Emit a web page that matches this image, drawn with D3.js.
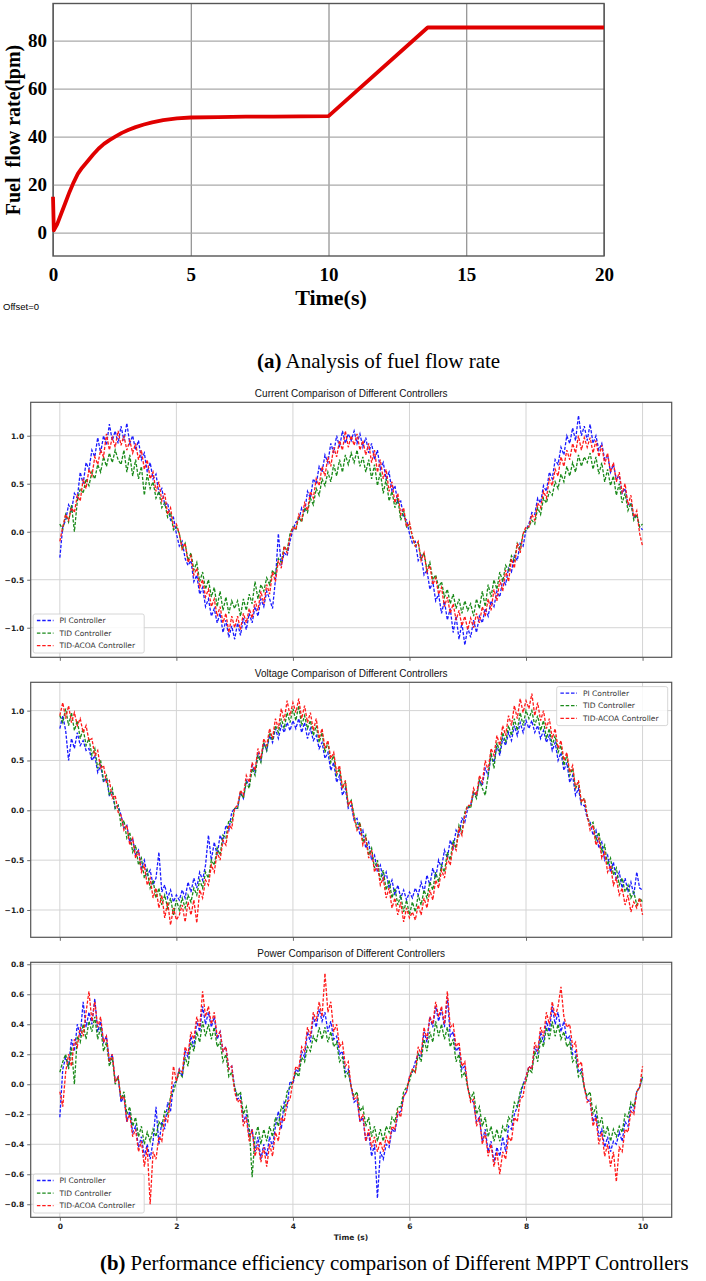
<!DOCTYPE html>
<html>
<head>
<meta charset="utf-8">
<script src="https://cdn.jsdelivr.net/npm/d3@7"></script>
<style>
body { margin: 0; background: #fff; }
svg { display: block; }
</style>
</head>
<body>
<svg id="chart" width="706" height="1281"></svg>
<script>

// DATA
// (a) fuel flow rate
const fuelTime = [0, 0.03, 0.15, 0.3, 0.45, 0.6, 0.75, 0.9, 1.05, 1.27, 1.45, 1.65, 1.85, 2.05, 2.26, 2.5, 2.75, 3.0, 3.3, 3.6, 4.0, 4.5, 5, 6, 7, 8, 9, 10, 13.6, 20];
const fuelRate = [15, 1, 3.5, 8, 12.5, 17, 21, 24.5, 27, 30, 32.5, 35, 37, 38.6, 40, 41.6, 42.9, 44, 45.1, 46, 46.9, 47.6, 48, 48.2, 48.4, 48.4, 48.5, 48.6, 85.5, 85.5];
const fuelXTicks = [0, 5, 10, 15, 20];
const fuelYTicks = [0, 20, 40, 60, 80];

// (b) controller comparison, one sample every 0.05 s from 0 to 10 s
const sampleTime = d3.range(201).map(i => i / 20);
const timeTicks = [0, 2, 4, 6, 8, 10];
const controllers = ["PI Controller", "TID Controller", "TID-ACOA Controller"];

const currentPI = [-.27,
	.05,.12,.28,.22,.40,.35,.62,.50,.72,.65,.85,.78,.98,.82,1.0,.90,1.12,.95,1.05,.92,
	1.10,.95,1.13,.92,1.0,.85,.95,.75,.82,.62,.72,.55,.60,.40,.45,.28,.30,.12,.15,-.02,
	-.15,-.10,-.28,-.35,-.30,-.52,-.45,-.65,-.58,-.78,-.70,-.88,-.80,-.95,-.85,-1.05,-.92,-1.10,-.98,-1.12,
	-.95,-1.08,-.90,-1.02,-.85,-.95,-.78,-.88,-.70,-.78,-.62,-.70,-.80,-.50,-.02,-.35,-.22,-.25,-.10,.02,
	.10,.12,.25,.20,.42,.35,.55,.50,.68,.62,.80,.72,.92,.82,1.0,.88,1.05,.92,1.02,.95,
	1.05,.92,1.02,.88,.98,.82,.92,.75,.85,.65,.72,.55,.62,.42,.48,.30,.32,.15,.12,-.02,
	-.12,-.10,-.30,-.25,-.45,-.40,-.60,-.52,-.72,-.65,-.85,-.72,-.92,-.80,-1.05,-.88,-1.12,-.95,-1.18,-1.0,
	-1.10,-.92,-1.05,-.88,-.95,-.80,-.88,-.72,-.78,-.62,-.68,-.50,-.55,-.38,-.42,-.25,-.30,-.12,-.15,.02,
	.08,.20,.18,.35,.30,.48,.42,.62,.55,.75,.70,.88,.80,1.0,.92,1.08,.95,1.21,1.0,1.10,
	.95,1.12,.92,1.0,.85,.92,.75,.80,.62,.70,.55,.58,.40,.45,.28,.30,.15,.18,.05,.02];
const currentTID = [.08,
	.02,.18,.10,.28,.00,.32,.45,.40,.55,.48,.62,.55,.70,.62,.78,.68,.82,.72,.85,.75,
	.70,.85,.62,.80,.58,.75,.55,.68,.38,.60,.45,.52,.35,.42,.25,.30,.15,.20,.02,.05,
	-.02,-.18,-.12,-.30,-.22,-.40,-.32,-.52,-.42,-.60,-.50,-.68,-.58,-.78,-.62,-.82,-.68,-.85,-.72,-.80,
	-.72,-.88,-.70,-.82,-.65,-.75,-.52,-.70,-.55,-.62,-.48,-.55,-.40,-.45,-.28,-.32,-.15,-.20,-.02,.05,
	.02,.15,.10,.25,.20,.35,.28,.45,.38,.55,.48,.62,.52,.70,.58,.75,.62,.80,.70,.82,
	.72,.85,.68,.78,.62,.75,.55,.70,.48,.62,.40,.55,.32,.42,.25,.35,.12,.22,.05,.08,
	-.05,-.15,-.12,-.28,-.22,-.40,-.32,-.50,-.45,-.58,-.52,-.68,-.60,-.75,-.65,-.80,-.70,-.85,-.72,-.82,
	-.75,-.88,-.70,-.80,-.62,-.78,-.55,-.68,-.50,-.60,-.42,-.52,-.35,-.40,-.25,-.30,-.12,-.18,-.02,.02,
	.05,.12,.08,.25,.18,.35,.30,.42,.38,.52,.45,.60,.52,.68,.58,.72,.62,.80,.68,.78,
	.72,.82,.65,.78,.60,.72,.52,.65,.48,.58,.38,.50,.30,.40,.22,.30,.12,.18,.05,.08];
const currentACOA = [-.10,
	.05,.18,.12,.25,.20,.38,.32,.55,.45,.65,.58,.78,.70,.85,.78,1.02,.85,.98,.88,1.05,
	.90,1.00,.85,.95,.82,.92,.75,.85,.65,.75,.55,.62,.42,.52,.32,.40,.18,.25,.05,.08,
	-.02,-.18,-.12,-.32,-.25,-.45,-.38,-.58,-.50,-.68,-.60,-.78,-.70,-.88,-.78,-.95,-.85,-1.05,-.88,-1.0,
	-.88,-1.02,-.85,-.95,-.80,-.90,-.72,-.82,-.62,-.75,-.55,-.65,-.42,-.52,-.30,-.38,-.15,-.22,-.05,.05,
	.02,.18,.12,.30,.22,.42,.35,.55,.48,.68,.58,.78,.68,.88,.78,.95,.85,1.05,.88,1.0,
	.90,1.02,.85,.95,.80,.92,.72,.85,.62,.75,.55,.65,.42,.52,.30,.40,.18,.25,.05,.10,
	-.05,-.15,-.10,-.30,-.22,-.42,-.35,-.55,-.48,-.65,-.58,-.78,-.68,-.85,-.75,-.92,-.82,-.98,-.88,-1.02,
	-.90,-1.0,-.85,-.95,-.78,-.88,-.70,-.82,-.60,-.72,-.50,-.62,-.40,-.52,-.28,-.38,-.12,-.22,-.02,.05,
	.05,.18,.12,.30,.25,.42,.35,.55,.48,.65,.58,.78,.68,.85,.75,.92,.82,1.0,.85,.98,
	.88,.98,.82,.95,.78,.90,.70,.82,.62,.72,.52,.62,.40,.50,.28,.38,.15,.22,-.02,-.15];

const voltagePI = [.82,
	.95,.80,.50,.72,.62,.78,.65,.70,.60,.62,.50,.55,.38,.45,.28,.32,.15,.18,.02,.05,
	-.05,-.18,-.15,-.32,-.28,-.45,-.40,-.58,-.50,-.65,-.60,-.75,-.68,-.42,-.82,-.75,-.88,-.80,-.92,-.85,
	-.90,-.80,-.88,-.72,-.82,-.68,-.78,-.62,-.70,-.55,-.25,-.50,-.32,-.45,-.25,-.32,-.15,-.20,-.02,.02,
	.02,.18,.12,.30,.25,.45,.38,.58,.50,.68,.60,.75,.68,.82,.72,.85,.78,.88,.80,.90,
	.82,.92,.78,.88,.72,.82,.70,.75,.62,.68,.52,.58,.40,.48,.28,.35,.15,.22,.02,.05,
	-.10,-.08,-.25,-.20,-.38,-.32,-.50,-.45,-.62,-.55,-.70,-.62,-.78,-.70,-.85,-.75,-.88,-.80,-.90,-.82,
	-.88,-.78,-.85,-.72,-.82,-.65,-.75,-.58,-.68,-.50,-.58,-.40,-.48,-.30,-.38,-.20,-.25,-.08,-.12,.02,
	.05,.18,.15,.30,.25,.42,.35,.55,.48,.65,.55,.72,.65,.78,.70,.85,.75,.88,.78,.90,
	.82,.90,.78,.85,.72,.80,.68,.75,.60,.68,.50,.58,.40,.48,.28,.35,.15,.22,.05,.05,
	-.08,-.12,-.25,-.20,-.38,-.32,-.50,-.45,-.62,-.52,-.70,-.62,-.78,-.68,-.82,-.72,-.85,-.62,-.78,-.80];
const voltageTID = [.95,
	.88,1.02,.85,.98,.80,.90,.72,.82,.65,.72,.55,.62,.42,.50,.30,.35,.15,.22,.02,.05,
	-.15,-.10,-.28,-.22,-.42,-.35,-.55,-.48,-.68,-.60,-.78,-.70,-.88,-.78,-.95,-.85,-.98,-.88,-1.05,-.90,
	-1.0,-.88,-.98,-.85,-.92,-.78,-.85,-.70,-.78,-.62,-.68,-.50,-.55,-.38,-.45,-.25,-.28,-.10,-.12,.02,
	.02,.18,.12,.28,.22,.42,.35,.55,.48,.68,.60,.78,.70,.85,.78,.92,.82,.98,.88,1.02,
	.90,1.05,.85,.95,.82,.90,.75,.85,.68,.78,.58,.68,.48,.55,.35,.42,.22,.28,.05,.10,
	-.05,-.18,-.12,-.32,-.25,-.45,-.38,-.58,-.50,-.70,-.60,-.80,-.70,-.88,-.78,-.95,-.85,-1.02,-.90,-1.05,
	-.92,-1.02,-.85,-.95,-.80,-.88,-.72,-.80,-.62,-.72,-.55,-.62,-.42,-.50,-.30,-.38,-.15,-.22,-.02,.05,
	.02,.18,.12,.30,.22,.15,.35,.58,.42,.68,.58,.78,.68,.85,.75,.92,.80,.98,.85,1.0,
	.92,1.0,.85,.95,.80,.90,.72,.82,.65,.75,.58,.65,.45,.55,.35,.42,.22,.28,.08,.12,
	-.05,-.15,-.12,-.30,-.22,-.42,-.35,-.55,-.48,-.65,-.58,-.75,-.68,-.82,-.75,-.88,-.82,-.95,-.88,-.92];
const voltageACOA = [.95,
	1.08,.92,1.05,.88,.98,.85,.92,.78,.85,.70,.72,.55,.60,.42,.45,.28,.30,.12,.15,-.02,
	-.05,-.20,-.15,-.35,-.28,-.48,-.40,-.62,-.55,-.75,-.68,-.88,-.78,-.98,-.85,-1.08,-.92,-1.15,-.98,-1.10,
	-1.05,-.95,-1.12,-.92,-1.05,-.90,-1.13,-.80,-.88,-.70,-.75,-.55,-.62,-.42,-.50,-.30,-.35,-.15,-.18,.02,
	.05,.20,.15,.35,.28,.48,.40,.62,.52,.72,.65,.82,.72,.92,.82,1.02,.90,1.10,.95,1.08,
	.98,1.12,.92,1.05,.88,.98,.80,.92,.72,.82,.62,.70,.52,.58,.38,.45,.22,.30,.05,.10,
	-.08,-.20,-.15,-.35,-.28,-.48,-.40,-.62,-.55,-.75,-.68,-.88,-.78,-.98,-.88,-1.05,-.92,-1.12,-.98,-1.08,
	-1.02,-1.10,-.95,-1.05,-.88,-.98,-.80,-.90,-.70,-.78,-.60,-.68,-.48,-.55,-.35,-.40,-.18,-.25,-.05,.05,
	.05,.22,.15,.35,.28,.50,.40,.62,.55,.75,.65,.85,.75,.95,.85,1.05,.92,1.12,.98,1.10,
	1.02,1.17,.95,1.08,.90,1.0,.82,.92,.72,.82,.62,.70,.50,.58,.38,.45,.22,.30,.08,.12,
	-.05,-.20,-.15,-.35,-.28,-.48,-.42,-.62,-.55,-.75,-.68,-.85,-.78,-.95,-.85,-1.02,-.92,-.98,-.88,-1.05];

const powerPI = [-.22,
	.10,.18,.12,.30,.22,.40,.32,.55,.38,.48, .40,.57,.35,.42,.28,.32,.15,.20,.02,.05,
	-.12,-.08,-.25,-.18,-.32,-.28,-.42,-.35,-.48,-.40, -.50,-.38,-.15,-.40,-.25,-.30,-.12,-.18,.00,.02,
	.10,.05,.22,.18,.32,.25,.42,.35,.52,.40, .48,.38,.45,.30,.35,.22,.25,.10,.12,-.02,
	-.10,-.08,-.25,-.20,-.35,-.30,-.45,-.35,-.50,-.40, -.48,-.35,-.42,-.28,-.18,-.30,-.12,-.15,.02,.00,
	.10,.08,.22,.18,.35,.28,.45,.38,.50,.42, .48,.35,.42,.30,.32,.20,.22,.08,.10,-.02,
	-.12,-.10,-.25,-.22,-.38,-.32,-.48,-.40,-.76,-.45, -.50,-.40,-.42,-.30,-.32,-.20,-.18,-.08,-.05,.05,
	.08,.15,.20,.18,.35,.28,.45,.38,.52,.42, .50,.38,.58,.32,.35,.22,.25,.10,.12,-.02,
	-.10,-.12,-.25,-.22,-.38,-.30,-.45,-.38,-.52,-.42, -.48,-.35,-.45,-.28,-.30,-.20,-.15,-.08,.00,.05,
	.12,.10,.25,.20,.35,.28,.42,.35,.52,.40, .48,.35,.42,.30,.32,.20,.22,.08,.10,-.02,
	-.10,-.12,-.25,-.20,-.35,-.30,-.42,-.35,-.45,-.38, -.40,-.32,-.38,-.25,-.28,-.15,-.18,-.05,-.02,.05];
const powerTID = [.08,
	.15,.20,.10,.25,.00,.32,.28,.40,.30,.42, .35,.45,.30,.38,.22,.28,.12,.18,.00,.05,
	-.10,-.05,-.20,-.15,-.28,-.22,-.35,-.28,-.40,-.32, -.38,-.30,-.35,-.25,-.28,-.18,-.20,-.08,-.05,.02,
	.08,.05,.18,.12,.28,.22,.35,.28,.42,.32, .40,.30,.38,.25,.28,.15,.20,.05,.08,-.02,
	-.08,-.05,-.20,-.15,-.28,-.62,-.35,-.28,-.40,-.30, -.38,-.28,-.35,-.22,-.28,-.15,-.18,-.05,-.02,.02,
	.08,.05,.18,.15,.25,.22,.32,.28,.38,.30, .38,.28,.35,.25,.28,.15,.18,.05,.08,-.02,
	-.08,-.05,-.18,-.15,-.28,-.22,-.35,-.28,-.38,-.30, -.38,-.28,-.32,-.22,-.25,-.15,-.15,-.05,-.02,.02,
	.10,.08,.20,.15,.30,.22,.35,.28,.42,.32, .40,.30,.38,.25,.30,.15,.20,.05,.08,-.02,
	-.10,-.05,-.20,-.15,-.28,-.22,-.35,-.28,-.38,-.30, -.38,-.28,-.32,-.22,-.25,-.12,-.15,-.05,.00,.02,
	.10,.08,.22,.15,.30,.25,.38,.30,.42,.32, .40,.30,.35,.25,.28,.15,.18,.05,.08,-.02,
	-.08,-.05,-.20,-.15,-.28,-.22,-.35,-.28,-.38,-.30, -.35,-.28,-.32,-.20,-.22,-.12,-.15,-.05,-.02,.05];
const powerACOA = [-.05,
	-.15,.08,.20,.12,.30,.25,.38,.32,.48,.62, .42,.55,.38,.45,.28,.32,.15,.20,.02,.05,
	-.10,-.08,-.25,-.20,-.35,-.30,-.45,-.38,-.55,-.42, -.80,-.45,-.50,-.35,-.38,-.22,-.25,-.10,.12,.02,
	.10,.08,.25,.20,.35,.30,.45,.38,.62,.45, .52,.40,.48,.32,.35,.22,.25,.10,.12,-.05,
	-.12,-.10,-.28,-.22,-.38,-.30,-.48,-.40,-.52,-.42, -.55,-.40,-.48,-.32,-.38,-.22,-.25,-.12,-.10,.02,
	.12,.10,.25,.22,.38,.32,.48,.42,.55,.45, .74,.48,.55,.35,.40,.25,.28,.12,.15,-.02,
	-.10,-.08,-.25,-.20,-.38,-.30,-.42,-.35,-.45,-.38, -.45,-.35,-.40,-.28,-.30,-.18,-.22,-.08,-.05,.05,
	.10,.08,.25,.20,.38,.30,.45,.40,.55,.45, .52,.40,.62,.38,.40,.25,.28,.12,.15,-.02,
	-.12,-.10,-.28,-.22,-.40,-.32,-.48,-.40,-.55,-.45, -.60,-.45,-.50,-.35,-.38,-.22,-.25,-.10,-.08,.05,
	.12,.10,.28,.22,.38,.32,.48,.40,.55,.45, .52,.65,.45,.38,.40,.25,.28,.12,.15,-.02,
	-.12,-.10,-.28,-.22,-.40,-.32,-.48,-.40,-.55,-.45, -.65,-.42,-.45,-.30,-.32,-.18,-.20,-.05,-.02,.12];

const currentTicks = [-1, -0.5, 0, 0.5, 1];
const voltageTicks = [-1, -0.5, 0, 0.5, 1];
const powerTicks = [-0.8, -0.6, -0.4, -0.2, 0, 0.2, 0.4, 0.6, 0.8];



// SETUP
const svg = d3.select("#chart");
svg.append("rect").attr("width", 706).attr("height", 1281).attr("fill", "#fff");
const minus = d => d3.format(".1f")(d).replace("-", "\u2212");



// (a) FUEL FLOW RATE
const fa = { left: 53, right: 604, top: 3.5, bottom: 256 };
const xA = d3.scaleLinear().domain([0, 20]).range([fa.left, fa.right]);
const yA = d3.scaleLinear().domain([-9.7, 95.5]).range([fa.bottom, fa.top]);

// grid + labels
const gxA = svg.append("g")
	.attr("transform", `translate(0, ${fa.bottom})`)
	.call(d3.axisBottom(xA).tickValues(fuelXTicks).tickSize(-(fa.bottom - fa.top)).tickPadding(12));
gxA.select(".domain").remove();
gxA.selectAll("line").attr("stroke", "#666").attr("stroke-width", 0.9);
gxA.selectAll("text")
	.attr("font-family", "Liberation Serif").attr("font-weight", "bold")
	.attr("font-size", 19).attr("fill", "#000");

const gyA = svg.append("g")
	.attr("transform", `translate(${fa.left}, 0)`)
	.call(d3.axisLeft(yA).tickValues(fuelYTicks).tickSize(-(fa.right - fa.left)).tickPadding(6));
gyA.select(".domain").remove();
gyA.selectAll("line").attr("stroke", "#aaa").attr("stroke-width", 1.3);
gyA.selectAll("text")
	.attr("font-family", "Liberation Serif").attr("font-weight", "bold")
	.attr("font-size", 19).attr("fill", "#000");

svg.append("rect")
	.attr("x", fa.left).attr("y", fa.top)
	.attr("width", fa.right - fa.left).attr("height", fa.bottom - fa.top)
	.attr("fill", "none").attr("stroke", "#555").attr("stroke-width", 1.4);

// curve
const fuelLine = d3.line()
	.x((d, i) => xA(fuelTime[i]))
	.y(d => yA(d));
svg.append("path")
	.datum(fuelRate)
	.attr("d", fuelLine)
	.attr("fill", "none")
	.attr("stroke", "#e00000")
	.attr("stroke-width", 3.8)
	.attr("stroke-linejoin", "round");

// labels
svg.append("text")
	.attr("x", 331).attr("y", 305)
	.attr("text-anchor", "middle")
	.attr("font-family", "Liberation Serif").attr("font-weight", "bold").attr("font-size", 22)
	.text("Time(s)");
svg.append("text")
	.attr("transform", "translate(20, 130) rotate(-90)")
	.attr("text-anchor", "middle")
	.attr("font-family", "Liberation Serif").attr("font-weight", "bold").attr("font-size", 20)
	.style("white-space", "pre")
	.text("Fuel  flow rate(lpm)");
svg.append("text")
	.attr("x", 3).attr("y", 310)
	.attr("font-family", "Liberation Sans").attr("font-size", 9.5)
	.text("Offset=0");

const capA = svg.append("text")
	.attr("x", 257).attr("y", 368)
	.attr("font-family", "Liberation Serif").attr("font-size", 21);
capA.append("tspan").attr("font-weight", "bold").text("(a)");
capA.append("tspan").text(" Analysis of fuel flow rate");



// (b) CONTROLLER PANELS
const xB = d3.scaleLinear().domain([-0.5, 10.5]).range([30.7, 671.7]);
const colors = ["#1a1aff", "#1a8a1a", "#ff1a1a"];

function drawPanel(p) {
	const y = d3.scaleLinear().domain(p.yDomain).range([p.bottom, p.top]);
	const g = svg.append("g");

	// grid
	g.selectAll(".gx").data(timeTicks).enter().append("line")
		.attr("x1", d => xB(d)).attr("x2", d => xB(d))
		.attr("y1", p.top).attr("y2", p.bottom)
		.attr("stroke", "#d4d4d4").attr("stroke-width", 1);
	g.selectAll(".gy").data(p.yTicks).enter().append("line")
		.attr("x1", xB.range()[0]).attr("x2", xB.range()[1])
		.attr("y1", d => y(d)).attr("y2", d => y(d))
		.attr("stroke", "#d4d4d4").attr("stroke-width", 1);

	// axes
	const ax = g.append("g")
		.attr("transform", `translate(0, ${p.bottom})`)
		.call(d3.axisBottom(xB).tickValues(timeTicks).tickSize(3.5).tickPadding(3)
			.tickFormat(p.xLabels ? d3.format("d") : ""));
	const ay = g.append("g")
		.attr("transform", `translate(${xB.range()[0]}, 0)`)
		.call(d3.axisLeft(y).tickValues(p.yTicks).tickSize(3.5).tickPadding(3).tickFormat(minus));
	[ax, ay].forEach(a => {
		a.select(".domain").remove();
		a.selectAll("line").attr("stroke", "#444").attr("stroke-width", 0.8);
		a.selectAll("text")
			.attr("font-family", "DejaVu Sans").attr("font-weight", "bold")
			.attr("font-size", 7.5).attr("fill", "#222");
	});

	// series
	const line = d3.line().x((d, i) => xB(sampleTime[i])).y(d => y(d));
	p.series.forEach((s, i) => {
		if (s.length !== sampleTime.length) console.warn("length", p.title, i, s.length);
		g.append("path")
			.datum(s)
			.attr("d", line)
			.attr("fill", "none")
			.attr("stroke", colors[i])
			.attr("stroke-width", 1.3)
			.attr("stroke-dasharray", "3.2,1.6");
	});

	// frame
	g.append("rect")
		.attr("x", xB.range()[0]).attr("y", p.top)
		.attr("width", xB.range()[1] - xB.range()[0]).attr("height", p.bottom - p.top)
		.attr("fill", "none").attr("stroke", "#555").attr("stroke-width", 1.2);

	// title
	g.append("text")
		.attr("x", (xB.range()[0] + xB.range()[1]) / 2).attr("y", p.top - 5)
		.attr("text-anchor", "middle")
		.attr("font-family", "Liberation Sans").attr("font-size", 10).attr("fill", "#111")
		.text(p.title);

	// legend
	const lw = 111, lh = 39;
	const lx = p.legend === "right" ? xB.range()[1] - 4 - lw : xB.range()[0] + 2.5;
	const ly = p.legend === "right" ? p.top + 4.3 : p.bottom - 4.3 - lh;
	const lg = g.append("g").attr("transform", `translate(${lx}, ${ly})`);
	lg.append("rect")
		.attr("width", lw).attr("height", lh).attr("rx", 2)
		.attr("fill", "#fff").attr("fill-opacity", 0.85)
		.attr("stroke", "#ccc").attr("stroke-width", 0.8);
	controllers.forEach((c, i) => {
		const cy = 6.5 + i * 12.6;
		lg.append("line")
			.attr("x1", 3.7).attr("x2", 20.3).attr("y1", cy).attr("y2", cy)
			.attr("stroke", colors[i]).attr("stroke-width", 1.3)
			.attr("stroke-dasharray", "3.5,1.8");
		lg.append("text")
			.attr("x", 26.3).attr("y", cy).attr("dy", "0.35em")
			.attr("font-family", "DejaVu Sans").attr("font-size", 7.5).attr("fill", "#333")
			.text(c);
	});
}

drawPanel({
	top: 402.3, bottom: 657.3, yDomain: [-1.308, 1.348], yTicks: currentTicks,
	series: [currentPI, currentTID, currentACOA],
	title: "Current Comparison of Different Controllers", legend: "left", xLabels: false
});
drawPanel({
	top: 682.3, bottom: 937.3, yDomain: [-1.274, 1.284], yTicks: voltageTicks,
	series: [voltagePI, voltageTID, voltageACOA],
	title: "Voltage Comparison of Different Controllers", legend: "right", xLabels: false
});
drawPanel({
	top: 962.3, bottom: 1217.3, yDomain: [-0.887, 0.813], yTicks: powerTicks,
	series: [powerPI, powerTID, powerACOA],
	title: "Power Comparison of Different Controllers", legend: "left", xLabels: true
});

svg.append("text")
	.attr("x", 351).attr("y", 1240)
	.attr("text-anchor", "middle")
	.attr("font-family", "DejaVu Sans").attr("font-weight", "bold").attr("font-size", 7.5).attr("fill", "#222")
	.text("Time (s)");

const capB = svg.append("text")
	.attr("x", 100).attr("y", 1270)
	.attr("font-family", "Liberation Serif").attr("font-size", 20.8);
capB.append("tspan").attr("font-weight", "bold").text("(b)");
capB.append("tspan").text(" Performance efficiency comparison of Different MPPT Controllers");

</script>
</body>
</html>
